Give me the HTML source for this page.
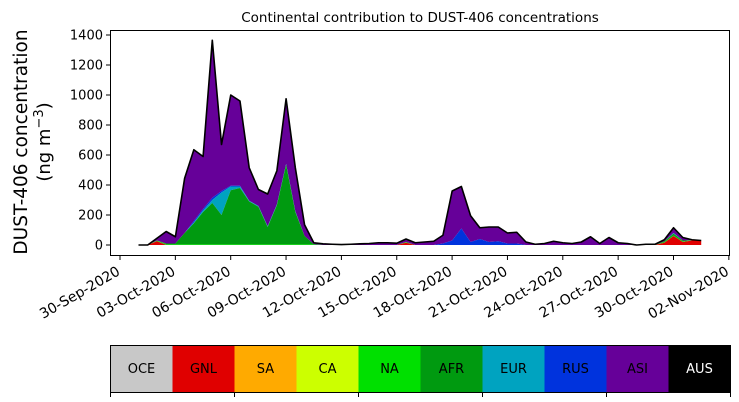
<!DOCTYPE html>
<html><head><meta charset="utf-8"><style>
body{margin:0;background:#fff;}
svg{display:block;font-family:"DejaVu Sans","Liberation Sans",sans-serif;}
</style></head><body>
<svg id="s" width="739" height="402" viewBox="0 0 739 402" xmlns="http://www.w3.org/2000/svg">
<text x="420" y="22" font-size="13.5" text-anchor="middle">Continental contribution to DUST-406 concentrations</text>
<text transform="translate(27,142) rotate(-90)" font-size="18.5" text-anchor="middle">DUST-406 concentration</text>
<text transform="translate(50,142) rotate(-90)" font-size="18" text-anchor="middle">(ng m<tspan dy="-7" font-size="13">−3</tspan><tspan dy="7">)</tspan></text>
<g id="plot"></g>
<rect x="110.5" y="30.5" width="619" height="225" fill="none" stroke="#000" stroke-width="1"/>
<g id="ticks" font-size="13"></g>
<g id="cb" font-size="13"></g>
</svg>
<script>
var T=[0,0,45,90,55,445,635,590,1365,670,1000,960,515,370,340,495,975,515,135,15,8,5,3,5,8,10,15,15,12,40,15,20,25,65,360,390,195,115,120,120,80,85,20,5,10,25,15,10,20,55,10,50,15,10,0,5,5,35,115,50,35,30];
var n=T.length,R=[],G=[],C=[],B=[];
for(var i=0;i<n;i++){R[i]=0;G[i]=0;}
R[2]=25;R[29]=15;R[57]=15;R[58]=60;R[59]=20;R[60]=30;R[61]=30;
var g={2:30,3:10,4:10,5:80,6:145,7:220,8:280,9:200,10:365,11:380,12:290,13:255,14:120,15:265,16:535,17:220,18:60,19:5,29:20,57:25,58:75,59:30,60:32,61:30};
for(var k in g)G[k]=g[k];
var c={6:5,7:10,8:20,9:150,10:25,11:10,12:5,13:5,14:5,15:5,16:5,17:5,58:5};
var b={6:10,7:10,8:15,9:10,10:5,11:5,33:10,34:30,35:110,36:20,37:40,38:20,39:25,40:10,41:10};
for(i=0;i<n;i++){C[i]=G[i]+(c[i]||0);B[i]=Math.min(T[i],C[i]+(b[i]||0));C[i]=Math.min(C[i],T[i]);G[i]=Math.min(G[i],T[i]);R[i]=Math.min(R[i],G[i]||R[i]);}
function X(i){return 138.5+i*9.225;}
function Y(v){return 245-v*0.15;}
function area(top,bot,col){var d="M";for(var i=0;i<n;i++)d+=X(i)+","+Y(top[i])+" L";for(i=n-1;i>=0;i--)d+=X(i)+","+Y(bot[i])+(i?" L":"Z");return '<path d="'+d+'" fill="'+col+'"/>';}
var Z=[];for(i=0;i<n;i++)Z[i]=0;
var NA=[];for(i=0;i<n;i++)NA[i]=R[i]+Math.min(4,Math.max(0,G[i]-R[i]));
var h=area(T,B,"#660099")+area(B,C,"#0033dd")+area(C,G,"#00a3c0")+area(G,NA,"#009a10")+area(NA,R,"#00e000")+area(R,Z,"#e00000");
var d="M";for(i=0;i<n;i++)d+=X(i)+","+Y(T[i])+(i<n-1?" L":"");
h+='<path d="'+d+'" fill="none" stroke="#000" stroke-width="1.6" stroke-linejoin="round"/>';
document.getElementById("plot").innerHTML=h;
var t="";
for(var v=0;v<=1400;v+=200){var y=Y(v);t+='<line x1="106" x2="110.5" y1="'+y+'" y2="'+y+'" stroke="#000"/><text x="103" y="'+(y+4.5)+'" text-anchor="end">'+v+'</text>';}
var L=["30-Sep-2020","03-Oct-2020","06-Oct-2020","09-Oct-2020","12-Oct-2020","15-Oct-2020","18-Oct-2020","21-Oct-2020","24-Oct-2020","27-Oct-2020","30-Oct-2020","02-Nov-2020"];
for(i=0;i<12;i++){var x=120+i*55.35;t+='<line x1="'+x+'" x2="'+x+'" y1="255.5" y2="260" stroke="#000"/><text font-size="14" transform="translate('+(x+1)+',274) rotate(-30)" text-anchor="end">'+L[i]+'</text>';}
document.getElementById("ticks").innerHTML=t;
var names=["OCE","GNL","SA","CA","NA","AFR","EUR","RUS","ASI","AUS"],cols=["#c8c8c8","#e00000","#ffaa00","#ccff00","#00e000","#009a10","#00a3c0","#0033dd","#660099","#000000"];
var cb="";
for(i=0;i<10;i++){var x0=110.5+i*62;cb+='<rect x="'+x0+'" y="345.5" width="62" height="47" fill="'+cols[i]+'"/><text x="'+(x0+31)+'" y="373" text-anchor="middle" fill="'+(i==9?"#fff":"#000")+'">'+names[i]+'</text>';}
cb+='<rect x="110.5" y="345.5" width="620" height="47" fill="none" stroke="#000"/>';
for(i=0;i<6;i++){var x=110.5+i*124;cb+='<line x1="'+x+'" x2="'+x+'" y1="392.5" y2="397" stroke="#000"/>';}
document.getElementById("cb").innerHTML=cb;
</script>
</body></html>
